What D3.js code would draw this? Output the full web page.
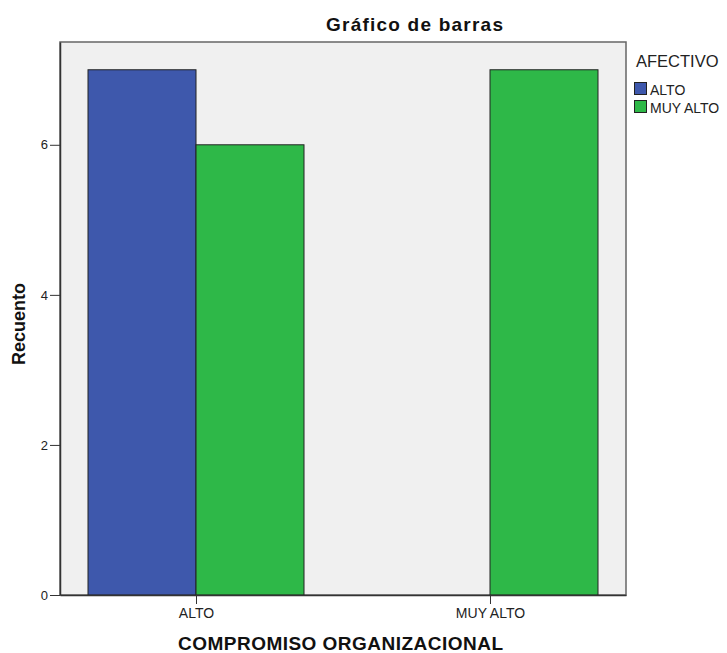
<!DOCTYPE html>
<html><head><meta charset="utf-8">
<script src="https://cdn.jsdelivr.net/npm/d3@7"></script>
<style>body{margin:0;background:#fff}svg{display:block}</style>
</head><body>
<svg id="c" width="727" height="653"></svg>
<script>
const categories = ["ALTO", "MUY ALTO"];
const seriesNames = ["ALTO", "MUY ALTO"];
const seriesColors = ["#3e58ac", "#2eb848"];
const valuesAlto = [7, null];      // AFECTIVO = ALTO
const valuesMuyAlto = [6, 7];      // AFECTIVO = MUY ALTO
const yTicks = [0, 2, 4, 6];

const svg = d3.select("#c");
const L = 60, R = 626, T = 42, B = 595;
const font = "'Liberation Sans', Arial, sans-serif";

const x = d3.scalePoint().domain(categories).range([L, R]).padding(0.4626);
const xs = d3.scaleBand().domain(seriesNames).range([-108, 108]);
const y = d3.scaleLinear().domain([0, 7.37]).range([B, T]);

svg.append("rect").attr("x", L).attr("y", T).attr("width", R - L).attr("height", B - T)
  .attr("fill", "#f0f0f0").attr("stroke", "#666").attr("stroke-width", 1.5);

const series = [valuesAlto, valuesMuyAlto];
series.forEach((vals, si) => {
  vals.forEach((v, ci) => {
    if (v == null) return;
    svg.append("rect")
      .attr("x", x(categories[ci]) + xs(seriesNames[si]))
      .attr("y", y(v))
      .attr("width", xs.bandwidth())
      .attr("height", y(0) - y(v))
      .attr("fill", seriesColors[si])
      .attr("stroke", "#222").attr("stroke-width", 1);
  });
});

// axes
const yAxis = svg.append("g").attr("transform", `translate(${L},0)`)
  .call(d3.axisLeft(y).tickValues(yTicks).tickSize(10).tickSizeOuter(0).tickPadding(2).tickFormat(d3.format("d")));
yAxis.select(".domain").attr("stroke", "#333").attr("stroke-width", 1.5);
yAxis.selectAll("line").attr("stroke", "#333");
yAxis.selectAll("text").attr("font-family", font).attr("font-size", 13).attr("fill", "#222");

const xAxis = svg.append("g").attr("transform", `translate(0,${B})`)
  .call(d3.axisBottom(x).tickSize(9).tickSizeOuter(0));
xAxis.select(".domain").attr("stroke", "#333").attr("stroke-width", 1.5);
xAxis.selectAll("line").attr("stroke", "#333");
xAxis.selectAll("text").attr("font-family", font).attr("font-size", 14).attr("fill", "#222")
  .attr("y", 23).attr("dy", 0);

// titles
svg.append("text").attr("x", 414.5).attr("y", 31).attr("text-anchor", "middle")
  .attr("font-family", font).attr("font-weight", "bold").attr("font-size", 19).attr("fill", "#111")
  .attr("textLength", 177).attr("lengthAdjust", "spacing")
  .text("Gráfico de barras");
svg.append("text").attr("x", 340.5).attr("y", 650).attr("text-anchor", "middle")
  .attr("font-family", font).attr("font-weight", "bold").attr("font-size", 19).attr("fill", "#111")
  .attr("textLength", 325).attr("lengthAdjust", "spacing")
  .text("COMPROMISO ORGANIZACIONAL");
svg.append("text").attr("transform", `translate(25,324) rotate(-90)`).attr("text-anchor", "middle")
  .attr("font-family", font).attr("font-weight", "bold").attr("font-size", 18).attr("fill", "#111")
  .text("Recuento");

// legend
svg.append("text").attr("x", 636).attr("y", 67).attr("font-family", font).attr("font-size", 16.5)
  .attr("fill", "#222").text("AFECTIVO");
seriesNames.forEach((s, i) => {
  const yy = 82 + i * 18;
  svg.append("rect").attr("x", 634.5).attr("y", yy + 0.5).attr("width", 12).attr("height", 12)
    .attr("fill", seriesColors[i]).attr("stroke", "#222");
  svg.append("text").attr("x", 650).attr("y", yy + 13).attr("font-family", font).attr("font-size", 14)
    .attr("fill", "#222").text(s);
});
</script>
</body></html>
